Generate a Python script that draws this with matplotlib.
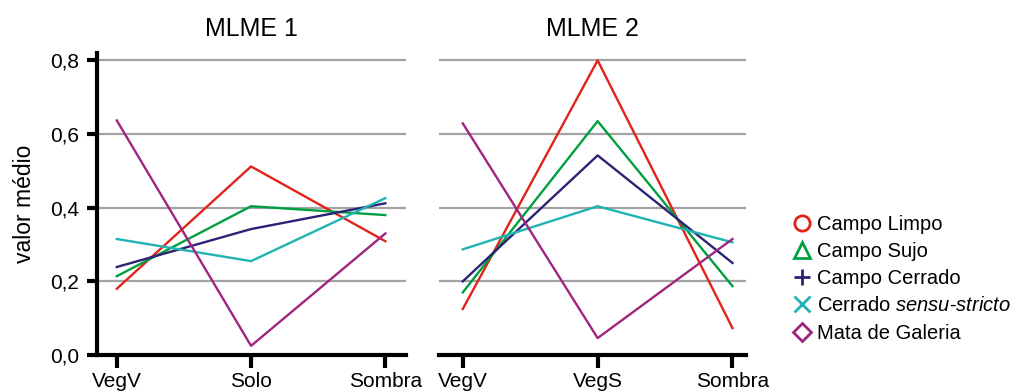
import matplotlib.pyplot as plt
from matplotlib.lines import Line2D

plt.rcParams['font.family'] = ['Liberation Sans', 'DejaVu Sans']
plt.rcParams['mathtext.fontset'] = 'custom'
plt.rcParams['mathtext.rm'] = 'Liberation Sans'
plt.rcParams['mathtext.it'] = 'Liberation Sans:italic'

# data
cats1 = ['VegV', 'Solo', 'Sombra']
cats2 = ['VegV', 'VegS', 'Sombra']
names = ['Campo Limpo', 'Campo Sujo', 'Campo Cerrado',
         'Cerrado $\\mathit{sensu}$-$\\mathit{stricto}$', 'Mata de Galeria']
colors = ['#e2231a', '#00a040', '#2b2375', '#1fb3b3', '#a0257f']
markers = ['o', '^', '+', 'x', 'D']

mlme1_limpo = [0.18, 0.512, 0.309]
mlme1_sujo = [0.214, 0.404, 0.38]
mlme1_cerrado = [0.239, 0.342, 0.412]
mlme1_ss = [0.315, 0.255, 0.426]
mlme1_mata = [0.637, 0.025, 0.33]

mlme2_limpo = [0.125, 0.80, 0.073]
mlme2_sujo = [0.17, 0.635, 0.187]
mlme2_cerrado = [0.20, 0.542, 0.25]
mlme2_ss = [0.287, 0.404, 0.306]
mlme2_mata = [0.629, 0.046, 0.315]

series1 = [mlme1_limpo, mlme1_sujo, mlme1_cerrado, mlme1_ss, mlme1_mata]
series2 = [mlme2_limpo, mlme2_sujo, mlme2_cerrado, mlme2_ss, mlme2_mata]

fig = plt.figure(figsize=(10.13, 3.91), dpi=100)
ax1 = fig.add_axes([0.0958, 0.092, 0.305, 0.7724])
ax2 = fig.add_axes([0.4334, 0.092, 0.303, 0.7724])

for ax, cats, series, title, xl in [(ax1, cats1, series1, 'MLME 1', (-0.147, 2.154)),
                                    (ax2, cats2, series2, 'MLME 2', (-0.176, 2.10))]:
    x = range(len(cats))
    for yv in [0.2, 0.4, 0.6, 0.8]:
        ax.axhline(yv, color='#a3a3a3', lw=1.6, zorder=1)
    for vals, c in zip(series, colors):
        ax.plot(x, vals, color=c, lw=1.7, zorder=2)
    ax.set_xlim(*xl)
    ax.set_ylim(0, 0.82)
    ax.set_xticks(list(x))
    ax.set_xticklabels(cats, fontsize=15)
    ax.set_title(title, fontsize=18, pad=12)
    for s in ['top', 'right']:
        ax.spines[s].set_visible(False)
    ax.spines['bottom'].set_linewidth(3)
    ax.spines['left'].set_linewidth(3)
    ax.tick_params(axis='x', length=9, width=3, pad=3)
    ax.tick_params(axis='y', length=7, width=3, labelsize=15, pad=6)

ax1.set_yticks([0, 0.2, 0.4, 0.6, 0.8])
ax1.set_yticklabels(['0,0', '0,2', '0,4', '0,6', '0,8'])
ax1.set_ylabel('valor médio', fontsize=16.5, labelpad=10)
ax2.spines['left'].set_visible(False)
ax2.set_yticks([])

handles = [Line2D([], [], ls='none', marker=m, color=c, markerfacecolor='none',
                  markersize=11 if m not in ('D',) else 9, markeredgewidth=2)
           for m, c in zip(markers, colors)]
fig.legend(handles, names, loc='upper left', bbox_to_anchor=(0.772, 0.477),
           frameon=False, fontsize=14.5, handlelength=1.0, handletextpad=0.25,
           labelspacing=0.41, borderpad=0)

fig.savefig('out.png', dpi=100)
